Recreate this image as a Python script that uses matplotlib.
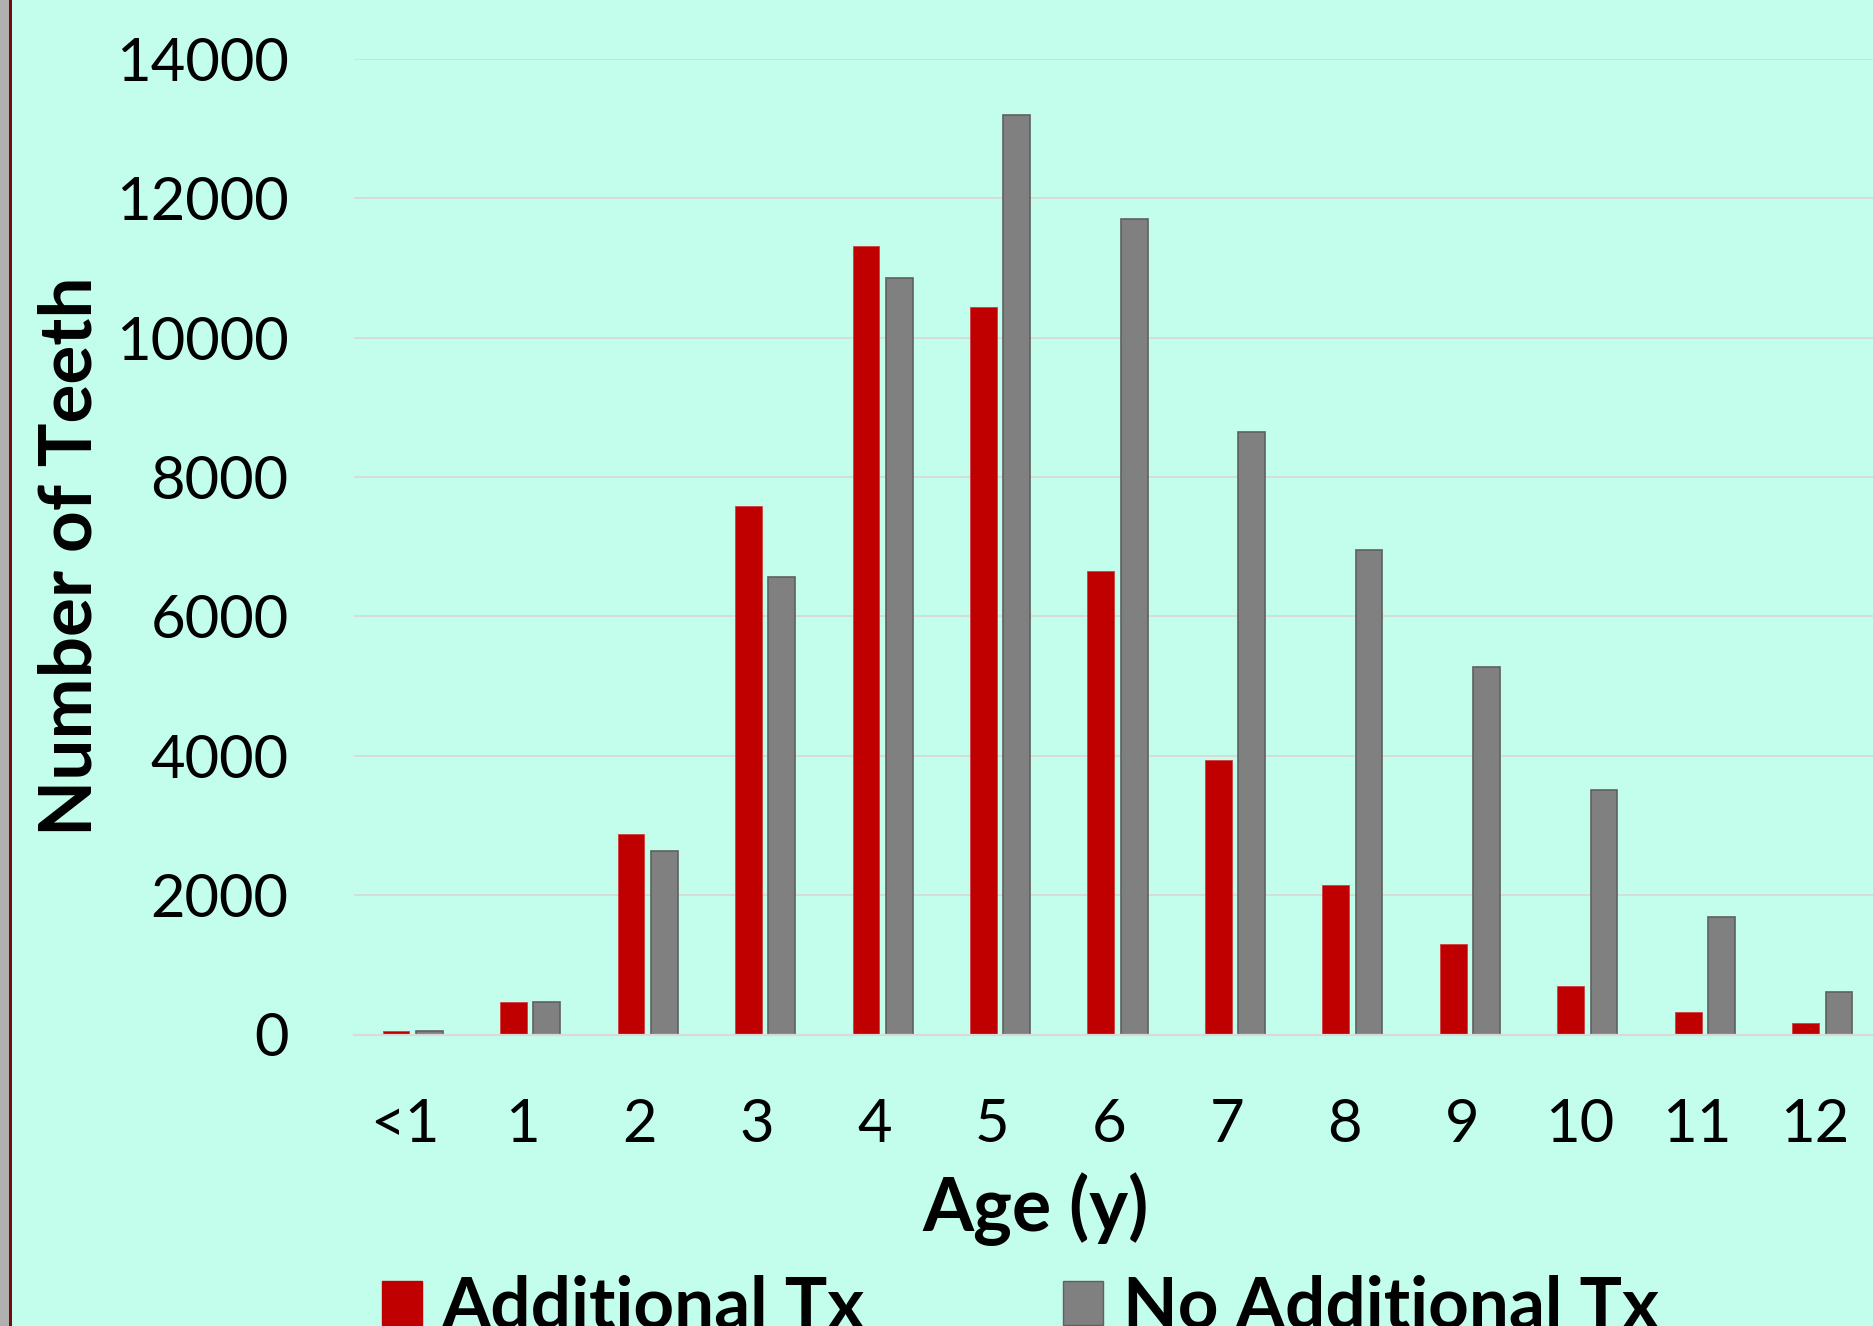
import matplotlib
matplotlib.use("Agg")
import matplotlib.pyplot as plt
import matplotlib.transforms as mtransforms
from matplotlib.patches import Rectangle, Patch
import numpy as np

# Data
ages = ["<1", "1", "2", "3", "4", "5", "6", "7", "8", "9", "10", "11", "12"]
additional_tx = [50, 470, 2880, 7580, 11320, 10440, 6650, 3940, 2140, 1300, 697, 316, 162]
no_additional_tx = [45, 462, 2640, 6570, 10850, 13200, 11700, 8640, 6960, 5280, 3510, 1688, 611]
y_ticks = [0, 2000, 4000, 6000, 8000, 10000, 12000, 14000]

BG = "#C3FDEC"
RED = "#C00000"
GRAY = "#808080"
GRID = "#D9D9D9"

W, H = 1874, 1326
DPI = 100
fig = plt.figure(figsize=(W / DPI, H / DPI), dpi=DPI, facecolor=BG)

# window-like left border
fig.add_artist(Rectangle((0, 0), 9 / W, 1, transform=fig.transFigure,
                         facecolor="#B0B0B0", edgecolor="none", zorder=10))
fig.add_artist(Rectangle((9 / W, 0), 2.5 / W, 1, transform=fig.transFigure,
                         facecolor="#7A0A0A", edgecolor="none", zorder=10))

# plot area in pixels
x0, x1 = 354, 1881
y_top, y_base = 59, 1034.5
ax = fig.add_axes([x0 / W, (H - y_base) / H, (x1 - x0) / W, (y_base - y_top) / H])
ax.set_facecolor(BG)

x = np.arange(len(ages))
off = 0.142
bw = 0.228
ax.bar(x - off, additional_tx, width=bw, color=RED, edgecolor="#D04040",
       linewidth=0.6, zorder=3, label="Additional Tx")
ax.bar(x + off, no_additional_tx, width=bw, color=GRAY, edgecolor="#606060",
       linewidth=1.2, zorder=3, label="No Additional Tx")

ax.set_xlim(-0.5, len(ages) - 0.5)
ax.set_ylim(0, 14000)
ax.set_yticks(y_ticks)
ax.set_yticklabels([str(v) for v in y_ticks])
ax.set_xticks(x)
ax.set_xticklabels(ages)

ax.yaxis.grid(True, color=GRID, linewidth=1.3, zorder=0)
ax.set_axisbelow(True)
for s in ["left", "right", "top"]:
    ax.spines[s].set_visible(False)
ax.spines["bottom"].set_color(GRID)
ax.spines["bottom"].set_linewidth(1.6)
ax.spines["bottom"].set_zorder(4)

font = ["Lato", "DejaVu Sans"]
ax.tick_params(axis="both", length=0)
ax.tick_params(axis="y", pad=47)
ax.tick_params(axis="x", pad=46)
for lab in ax.get_yticklabels() + ax.get_xticklabels():
    lab.set_fontfamily(font)
    lab.set_fontsize(43)
    lab.set_color("black")

shift = mtransforms.ScaledTranslation(-8 / DPI, 0, fig.dpi_scale_trans)
for lab in ax.get_xticklabels():
    lab.set_transform(lab.get_transform() + shift)

# axis titles
fig.text(71 / W, 1 - 556 / H, "Number of Teeth", rotation=90, ha="center",
         va="center", fontsize=52.5, fontweight="bold", family=font)
fig.text(1036 / W, 1 - 1209 / H, "Age (y)", ha="center", va="center",
         fontsize=53, fontweight="bold", family=font)

# legend
handles = [Patch(facecolor=RED, edgecolor=RED),
           Patch(facecolor=GRAY, edgecolor="#606060")]
fig.legend(handles, ["Additional Tx", "No Additional Tx"], ncol=2,
           loc="lower left", bbox_to_anchor=(382 / W, -14 / H),
           frameon=False, prop={"family": font, "weight": "bold", "size": 51},
           handlelength=0.56, handleheight=0.57, handletextpad=0.28,
           columnspacing=2.8, borderpad=0, borderaxespad=0)

fig.savefig("out.png", dpi=DPI, facecolor=BG)
